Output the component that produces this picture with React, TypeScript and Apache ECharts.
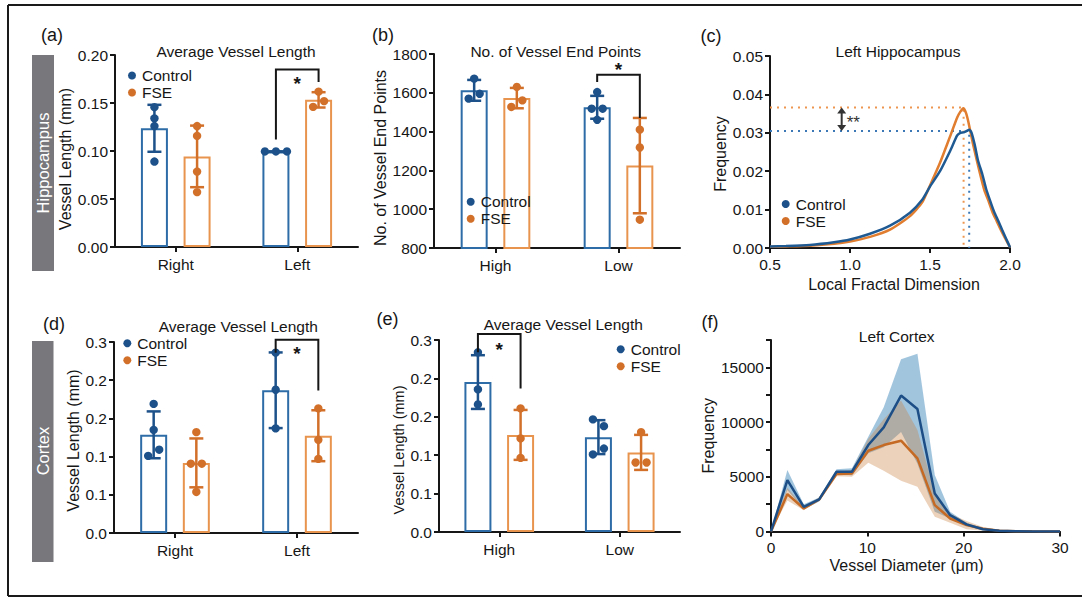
import React, { useEffect, useRef } from "react";
import * as echarts from "echarts";

const W = 1082;
const H = 598;
const FONT = "'Liberation Sans', Arial, Helvetica, sans-serif";
const INK = "#161616";
const CTRL = "#1c5189";
const CTRL_BAR = "#2d6ca6";
const FSE = "#d2702a";
const FSE_BAR = "#e8944f";
const CTRL_LINE = "#1f5a93";
const FSE_LINE = "#e07d2e";

// ---------- (a) Hippocampus, average vessel length ----------
const sideCats = ["Right", "Left"];
const hipLenCtrl = [
  [0.1456, 0.134, 0.126, 0.089],
  [0.0995, 0.0995, 0.0995],
];
const hipLenFse = [
  [0.126, 0.1157, 0.0786, 0.0572],
  [0.146, 0.1618, 0.152],
];
const hipLenBracket = [1, 0.185, 0.112, 0.172, 0.175];

// ---------- (b) Hippocampus, end points ----------
const densityCats = ["High", "Low"];
const hipEndCtrl = [
  [1570, 1673, 1595],
  [1604, 1518, 1518, 1461],
];
const hipEndFse = [
  [1527, 1630, 1561],
  [1410, 1318, 946],
];
const hipEndBracket = [1, 1693, 1656, 1470, 1740];

// ---------- (c) Left hippocampus fractal dimension ----------
const fractalCtrl = [
  [0.5, 0.0004], [0.6, 0.0005], [0.75, 0.0008], [0.9, 0.0015], [1.0, 0.0022],
  [1.125, 0.0037], [1.25, 0.0058], [1.375, 0.0092], [1.45, 0.0125], [1.5, 0.016],
  [1.5625, 0.02], [1.625, 0.0252], [1.67, 0.0293], [1.69, 0.03], [1.71, 0.0301],
  [1.73, 0.0305], [1.746, 0.0308], [1.76, 0.03], [1.78, 0.0268], [1.8, 0.0228],
  [1.827, 0.0192], [1.85, 0.0155], [1.875, 0.0124], [1.9, 0.0095], [1.927, 0.007],
  [1.95, 0.0048], [1.975, 0.0025], [2.0, 0.0002],
];
const fractalFse = [
  [0.5, 0.0003], [0.6, 0.0004], [0.75, 0.0006], [0.9, 0.0011], [1.0, 0.0017],
  [1.125, 0.0029], [1.25, 0.0048], [1.375, 0.0083], [1.45, 0.0118], [1.5, 0.0163],
  [1.5625, 0.0222], [1.625, 0.029], [1.67, 0.034], [1.69, 0.0355], [1.708, 0.0364],
  [1.725, 0.0352], [1.74, 0.0328], [1.77, 0.0268], [1.81, 0.0198], [1.84, 0.015],
  [1.866, 0.0122], [1.89, 0.0094], [1.917, 0.007], [1.945, 0.0045], [1.97, 0.0025],
  [2.0, 0.0002],
];
const fractalPeakCtrl = [1.745, 0.0305];
const fractalPeakFse = [1.71, 0.0366];
const fractalArrowX = 0.948;

// ---------- (d) Cortex, average vessel length ----------
const cortexTickLabels = ["0.0", "0.1", "0.1", "0.2", "0.2", "0.3"];
const ctxLenCtrl = [
  [0.169, 0.135, 0.101, 0.109],
  [0.236, 0.1875, 0.137],
];
const ctxLenFse = [
  [0.132, 0.0907, 0.0907, 0.0537],
  [0.163, 0.122, 0.097],
];
const ctxLenBracket = [1, 0.253, 0.236, 0.1866, 0.24];

// ---------- (e) Cortex by density ----------
const ctxDenCtrl = [
  [0.234, 0.1857, 0.166],
  [0.1466, 0.1378, 0.101, 0.1087],
];
const ctxDenFse = [
  [0.161, 0.1218, 0.0965],
  [0.13, 0.0905, 0.0905],
];
const ctxDenBracket = [0, 0.2578, 0.234, 0.187, 0.2434];

// ---------- (f) Left cortex diameter ----------
const diameters = [0, 1.7, 3.4, 5.0, 6.8, 8.4, 10.1, 11.7, 13.5, 15.2, 17.0, 18.6, 20.3, 22.0, 23.7, 25.4, 27.1, 28.8, 30];
const diamCtrlMean = [0, 4700, 2250, 2930, 5460, 5460, 7900, 9520, 12420, 11200, 3480, 1490, 650, 200, 60, 20, 10, 5, 0];
const diamCtrlUpper = [0, 5610, 2500, 3110, 5680, 5770, 8660, 11350, 15750, 16240, 5160, 1800, 790, 300, 100, 30, 15, 8, 0];
const diamCtrlLower = [0, 3800, 2000, 2750, 5240, 5150, 7140, 7690, 9090, 6200, 1800, 1180, 500, 120, 30, 10, 5, 2, 0];
const diamFseMean = [0, 3420, 2100, 2930, 5250, 5310, 7380, 7900, 8300, 6680, 2410, 1190, 580, 250, 80, 30, 15, 8, 0];
const diamFseUpper = [0, 4000, 2250, 3060, 5460, 5610, 8480, 10250, 11970, 9270, 3480, 1590, 960, 400, 150, 60, 30, 15, 0];
const diamFseLower = [0, 2840, 1950, 2800, 5040, 5010, 6280, 5550, 4630, 4090, 1340, 790, 200, 100, 20, 5, 2, 0, 0];

// ---------- layout ----------
const grids = [
  { left: 115, top: 55, width: 243, height: 192 },
  { left: 434, top: 54, width: 246, height: 194 },
  { left: 770, top: 56, width: 240, height: 192 },
  { left: 114, top: 342, width: 244, height: 191 },
  { left: 439, top: 340, width: 241, height: 192 },
  { left: 771, top: 340, width: 289, height: 191.5 },
];

const BAR_W = 27;
const BAR_GAP = 0.58;
const GROUP_OFF = (BAR_W * (1 + BAR_GAP)) / 2;

function mean(a: number[]) {
  return a.reduce((s, v) => s + v, 0) / a.length;
}
function sd(a: number[]) {
  const m = mean(a);
  return Math.sqrt(a.reduce((s, v) => s + (v - m) * (v - m), 0) / (a.length - 1));
}
function spread(vals: number[], pxPerUnit: number) {
  const off = vals.map(() => 0);
  const idx = vals.map((_, i) => i).sort((a, b) => vals[a] - vals[b]);
  const clusters: number[][] = [];
  let cur = [idx[0]];
  for (let k = 1; k < idx.length; k++) {
    if ((vals[idx[k]] - vals[idx[k - 1]]) * pxPerUnit < 7) cur.push(idx[k]);
    else {
      clusters.push(cur);
      cur = [idx[k]];
    }
  }
  clusters.push(cur);
  clusters.forEach((c) => {
    c.sort((a, b) => a - b);
    c.forEach((i, j) => (off[i] = (j - (c.length - 1) / 2) * 11));
  });
  return off;
}

const axisLineS = { show: true, onZero: false, lineStyle: { color: INK, width: 2 } };
const axisTickS = { show: true, length: 5, lineStyle: { color: INK, width: 2 } };
const labelS = { color: INK, fontSize: 15.5, fontFamily: FONT };
const catLabelS = { color: INK, fontSize: 15.5, fontFamily: FONT };
const nameS = { color: INK, fontSize: 16, fontFamily: FONT };

function legendAt(left: number, top: number) {
  return {
    orient: "vertical",
    left,
    top,
    padding: 0,
    itemWidth: 10,
    itemHeight: 8,
    itemGap: 1,
    selectedMode: false,
    textStyle: { color: INK, fontSize: 15.5, fontFamily: FONT },
    data: [
      { name: "Control", icon: "circle", itemStyle: { color: CTRL, borderWidth: 0 } },
      { name: "FSE", icon: "circle", itemStyle: { color: FSE, borderWidth: 0 } },
    ],
  };
}

function barPanel(
  gi: number,
  cats: string[],
  ctrlPts: number[][],
  fsePts: number[][],
  yMin: number,
  yMax: number,
  yInt: number,
  fmt: (v: number) => string,
  nameGap: number,
  yName: string,
  bracket: number[],
  nameStyle: any
) {
  const pxPerUnit = grids[gi].height / (yMax - yMin);
  const xAxis = {
    type: "category",
    gridIndex: gi,
    data: cats,
    axisLine: axisLineS,
    axisTick: { ...axisTickS, alignWithLabel: true },
    axisLabel: { ...catLabelS, margin: 9 },
  };
  const yAxis = {
    type: "value",
    gridIndex: gi,
    min: yMin,
    max: yMax,
    interval: yInt,
    axisLine: axisLineS,
    axisTick: axisTickS,
    splitLine: { show: false },
    axisLabel: { ...labelS, margin: 7, formatter: fmt },
    name: yName,
    nameLocation: "middle",
    nameGap,
    nameTextStyle: { ...nameS, ...nameStyle },
  };
  const series: any[] = [];
  const groups = [
    { name: "Control", pts: ctrlPts, dark: CTRL, bar: CTRL_BAR, off: -GROUP_OFF },
    { name: "FSE", pts: fsePts, dark: FSE, bar: FSE_BAR, off: GROUP_OFF },
  ];
  groups.forEach((g) => {
    series.push({
      type: "bar",
      name: g.name,
      xAxisIndex: gi,
      yAxisIndex: gi,
      data: g.pts.map((p) => mean(p)),
      barWidth: BAR_W,
      barGap: BAR_GAP * 100 + "%",
      itemStyle: { color: "#ffffff", borderColor: g.bar, borderWidth: 2 },
      z: 2,
      silent: true,
    });
  });
  groups.forEach((g) => {
    series.push({
      type: "custom",
      name: g.name + " SD",
      xAxisIndex: gi,
      yAxisIndex: gi,
      z: 3,
      silent: true,
      encode: { x: 0, y: 1 },
      data: g.pts.map((p, ci) => [ci, mean(p), sd(p)]),
      renderItem: (_p: any, api: any) => {
        const ci = api.value(0);
        const m = api.value(1);
        const s = api.value(2);
        const top = api.coord([ci, m + s]);
        const bot = api.coord([ci, m - s]);
        const x = top[0] + g.off;
        const st = { stroke: g.dark, lineWidth: 2.5 };
        return {
          type: "group",
          children: [
            { type: "line", shape: { x1: x, y1: top[1], x2: x, y2: bot[1] }, style: st },
            { type: "line", shape: { x1: x - 7, y1: top[1], x2: x + 7, y2: top[1] }, style: st },
            { type: "line", shape: { x1: x - 7, y1: bot[1], x2: x + 7, y2: bot[1] }, style: st },
          ],
        };
      },
    });
  });
  groups.forEach((g) => {
    const rows: number[][] = [];
    g.pts.forEach((p, ci) => {
      const offs = spread(p, pxPerUnit);
      p.forEach((v, k) => rows.push([ci, v, offs[k]]));
    });
    series.push({
      type: "custom",
      name: g.name + " points",
      xAxisIndex: gi,
      yAxisIndex: gi,
      z: 4,
      silent: true,
      encode: { x: 0, y: 1 },
      data: rows,
      renderItem: (_p: any, api: any) => {
        const c = api.coord([api.value(0), api.value(1)]);
        return {
          type: "circle",
          shape: { cx: c[0] + g.off + api.value(2), cy: c[1], r: 4.2 },
          style: { fill: g.dark },
        };
      },
    });
  });
  series.push({
    type: "custom",
    name: "significance",
    xAxisIndex: gi,
    yAxisIndex: gi,
    z: 5,
    silent: true,
    clip: false,
    encode: { x: 0, y: 1 },
    data: [bracket],
    renderItem: (_p: any, api: any) => {
      const ci = api.value(0);
      const top = api.coord([ci, api.value(1)]);
      const lEnd = api.coord([ci, api.value(2)]);
      const rEnd = api.coord([ci, api.value(3)]);
      const star = api.coord([ci, api.value(4)]);
      const xl = top[0] - GROUP_OFF;
      const xr = top[0] + GROUP_OFF;
      return {
        type: "group",
        children: [
          {
            type: "polyline",
            shape: { points: [[xl, lEnd[1]], [xl, top[1]], [xr, top[1]], [xr, rEnd[1]]] },
            style: { stroke: INK, lineWidth: 2, fill: "none" },
          },
          {
            type: "text",
            x: star[0],
            y: star[1] + 4,
            style: { text: "*", fontSize: 19, fontWeight: "bold", fontFamily: FONT, fill: INK, align: "center", verticalAlign: "middle" },
          },
        ],
      };
    },
  });
  return { xAxis, yAxis, series };
}

function buildOption() {
  const pa = barPanel(0, sideCats, hipLenCtrl, hipLenFse, 0, 0.2, 0.05, (v) => v.toFixed(2), 30, "Vessel Length (mm)", hipLenBracket, { padding: [0, 16, 0, 0] });
  const pb = barPanel(1, densityCats, hipEndCtrl, hipEndFse, 800, 1800, 200, (v) => String(v), 33, "No. of Vessel End Points", hipEndBracket, { padding: [0, 14, 0, 0] });
  const cortexFmt = (v: number) => cortexTickLabels[Math.round(v / 0.05)] ?? "";
  const pd = barPanel(3, sideCats, ctxLenCtrl, ctxLenFse, 0, 0.25, 0.05, cortexFmt, 29, "Vessel Length (mm)", ctxLenBracket, { padding: [0, 6, 0, 0] });
  const pe = barPanel(4, densityCats, ctxDenCtrl, ctxDenFse, 0, 0.25, 0.05, cortexFmt, 31, "Vessel Length (mm)", ctxDenBracket, { fontSize: 14.5, padding: [0, 28, 0, 0] });

  const xc = {
    type: "value",
    gridIndex: 2,
    min: 0.5,
    max: 2.0,
    interval: 0.5,
    axisLine: axisLineS,
    axisTick: axisTickS,
    splitLine: { show: false },
    axisLabel: { ...labelS, margin: 8, formatter: (v: number) => v.toFixed(1) },
    name: "Local Fractal Dimension",
    nameLocation: "middle",
    nameGap: 28,
    nameTextStyle: { ...nameS, padding: [0, 0, 0, 8] },
  };
  const yc = {
    type: "value",
    gridIndex: 2,
    min: 0,
    max: 0.05,
    interval: 0.01,
    axisLine: axisLineS,
    axisTick: axisTickS,
    splitLine: { show: false },
    axisLabel: { ...labelS, margin: 7, formatter: (v: number) => v.toFixed(2) },
    name: "Frequency",
    nameLocation: "middle",
    nameGap: 34,
    nameTextStyle: { ...nameS, padding: [0, 4, 0, 0] },
  };
  const xf = {
    type: "value",
    gridIndex: 5,
    min: 0,
    max: 30,
    interval: 10,
    axisLine: axisLineS,
    axisTick: axisTickS,
    splitLine: { show: false },
    axisLabel: { ...labelS, margin: 8 },
    name: "Vessel Diameter (\u03bcm)",
    nameLocation: "middle",
    nameGap: 26,
    nameTextStyle: { ...nameS, padding: [0, 18, 0, 0] },
  };
  const yf = {
    type: "value",
    gridIndex: 5,
    min: 0,
    max: 17500,
    interval: 2500,
    axisLine: axisLineS,
    axisTick: axisTickS,
    splitLine: { show: false },
    axisLabel: { ...labelS, margin: 7, formatter: (v: number) => (v % 5000 === 0 ? String(v) : "") },
    name: "Frequency",
    nameLocation: "middle",
    nameGap: 49,
    nameTextStyle: nameS,
  };

  const dotted = (pk: number[], color: string) => ({
    type: "line",
    xAxisIndex: 2,
    yAxisIndex: 2,
    data: [[0.5, pk[1]], [pk[0], pk[1]], [pk[0], 0]],
    symbol: "none",
    silent: true,
    z: 1,
    lineStyle: { color, width: 2, type: [2, 5] },
  });

  const cSeries: any[] = [
    dotted(fractalPeakFse, "#ee9650"),
    dotted(fractalPeakCtrl, "#3b78b5"),
    {
      type: "line",
      name: "Control",
      xAxisIndex: 2,
      yAxisIndex: 2,
      data: fractalCtrl,
      symbol: "none",
      smooth: 0.2,
      z: 3,
      lineStyle: { color: CTRL_LINE, width: 2.5 },
      itemStyle: { color: CTRL },
    },
    {
      type: "line",
      name: "FSE",
      xAxisIndex: 2,
      yAxisIndex: 2,
      data: fractalFse,
      symbol: "none",
      smooth: 0.2,
      z: 2,
      lineStyle: { color: FSE_LINE, width: 2.5 },
      itemStyle: { color: FSE },
    },
    {
      type: "custom",
      name: "difference",
      xAxisIndex: 2,
      yAxisIndex: 2,
      silent: true,
      z: 4,
      encode: { x: 0, y: 1 },
      data: [[fractalArrowX, fractalPeakCtrl[1], fractalPeakFse[1]]],
      renderItem: (_p: any, api: any) => {
        const a = api.coord([api.value(0), api.value(1)]);
        const b = api.coord([api.value(0), api.value(2)]);
        const x = a[0];
        const col = "#333333";
        return {
          type: "group",
          children: [
            { type: "line", shape: { x1: x, y1: a[1] - 3, x2: x, y2: b[1] + 3 }, style: { stroke: col, lineWidth: 2 } },
            { type: "polygon", shape: { points: [[x - 4.5, b[1] + 6], [x + 4.5, b[1] + 6], [x, b[1]]] }, style: { fill: col } },
            { type: "polygon", shape: { points: [[x - 4.5, a[1] - 6], [x + 4.5, a[1] - 6], [x, a[1]]] }, style: { fill: col } },
            {
              type: "text",
              x: x + 5,
              y: (a[1] + b[1]) / 2 + 3,
              style: { text: "**", fontSize: 17, fontFamily: FONT, fill: col, align: "left", verticalAlign: "middle" },
            },
          ],
        };
      },
    },
  ];

  const pairs = (xs: number[], ys: number[]) => xs.map((x, i) => [x, ys[i]]);
  const band = (lo: number[], up: number[], color: string, name: string, z: number) => ({
    type: "custom",
    name,
    xAxisIndex: 5,
    yAxisIndex: 5,
    silent: true,
    z,
    encode: { x: 0, y: 1 },
    data: diameters.map((x, i) => [x, up[i], lo[i]]),
    renderItem: (params: any, api: any) => {
      if (params.dataIndex !== 0) return null;
      const topPts = diameters.map((x, i) => api.coord([x, up[i]]));
      const botPts = diameters.map((x, i) => api.coord([x, lo[i]])).reverse();
      return { type: "polygon", shape: { points: topPts.concat(botPts) }, style: { fill: color } };
    },
  });
  const fSeries: any[] = [
    band(diamCtrlLower, diamCtrlUpper, "rgba(70,140,190,0.5)", "Control band", 1),
    band(diamFseLower, diamFseUpper, "rgba(200,125,60,0.35)", "FSE band", 2),
    {
      type: "line",
      name: "FSE mean",
      xAxisIndex: 5,
      yAxisIndex: 5,
      data: pairs(diameters, diamFseMean),
      symbol: "none",
      silent: true,
      z: 3,
      lineStyle: { color: "#c46a24", width: 2.5 },
    },
    {
      type: "line",
      name: "Control mean",
      xAxisIndex: 5,
      yAxisIndex: 5,
      data: pairs(diameters, diamCtrlMean),
      symbol: "none",
      silent: true,
      z: 4,
      lineStyle: { color: "#1d4f86", width: 2.5 },
    },
  ];

  const txt = (text: string, x: number, y: number, size = 15, extra: any = {}) => ({
    type: "text",
    x,
    y,
    silent: true,
    ...extra,
    style: { text, fontSize: size, fontFamily: FONT, fill: INK, align: "center", verticalAlign: "middle", ...(extra.style || {}) },
  });

  const graphic: any[] = [
    { type: "line", silent: true, shape: { x1: 8, y1: 5, x2: W, y2: 5 }, style: { stroke: "#1a1a1a", lineWidth: 2 } },
    { type: "line", silent: true, shape: { x1: 8, y1: 5, x2: 8, y2: 596 }, style: { stroke: "#1a1a1a", lineWidth: 2 } },
    { type: "line", silent: true, shape: { x1: 8, y1: 596, x2: W, y2: 596 }, style: { stroke: "#1a1a1a", lineWidth: 2 } },
    { type: "rect", silent: true, shape: { x: 32, y: 55, width: 22, height: 216 }, style: { fill: "#77777c" } },
    { type: "rect", silent: true, shape: { x: 32, y: 341, width: 21.5, height: 221 }, style: { fill: "#77777c" } },
    txt("Hippocampus", 43, 163, 16.5, { rotation: Math.PI / 2, style: { fill: "#ffffff" } }),
    txt("Cortex", 43, 451, 16.5, { rotation: Math.PI / 2, style: { fill: "#ffffff" } }),
    txt("(a)", 52, 35, 18),
    txt("(b)", 383, 35, 18),
    txt("(c)", 711, 35.5, 18),
    txt("(d)", 54, 324, 18),
    txt("(e)", 387.5, 319, 18),
    txt("(f)", 710, 321.5, 18),
    txt("Average Vessel Length", 236, 51.5, 15.5),
    txt("No. of Vessel End Points", 555.7, 51, 15.5),
    txt("Left Hippocampus", 898, 51.5, 15.5),
    txt("Average Vessel Length", 238.3, 326.5, 15.5),
    txt("Average Vessel Length", 563.3, 324, 15.5),
    txt("Left Cortex", 896.7, 336, 15.5),
  ];

  return {
    animation: false,
    backgroundColor: "#ffffff",
    textStyle: { fontFamily: FONT },
    grid: grids.map((g) => ({ ...g, containLabel: false })),
    xAxis: [pa.xAxis, pb.xAxis, xc, pd.xAxis, pe.xAxis, xf],
    yAxis: [pa.yAxis, pb.yAxis, yc, pd.yAxis, pe.yAxis, yf],
    legend: [
      legendAt(128, 67.5),
      legendAt(466.7, 193.7),
      legendAt(781.7, 196),
      legendAt(123.3, 335.3),
      legendAt(616.7, 341.3),
    ],
    series: [...pa.series, ...pb.series, ...cSeries, ...pd.series, ...pe.series, ...fSeries],
    graphic,
  };
}

export default function App() {
  const ref = useRef<HTMLDivElement>(null);
  useEffect(() => {
    document.body.style.margin = "0";
    const chart = echarts.init(ref.current as HTMLDivElement, undefined, { renderer: "svg" });
    chart.setOption(buildOption() as any);
    return () => chart.dispose();
  }, []);
  return <div ref={ref} style={{ width: W, height: H }} />;
}
